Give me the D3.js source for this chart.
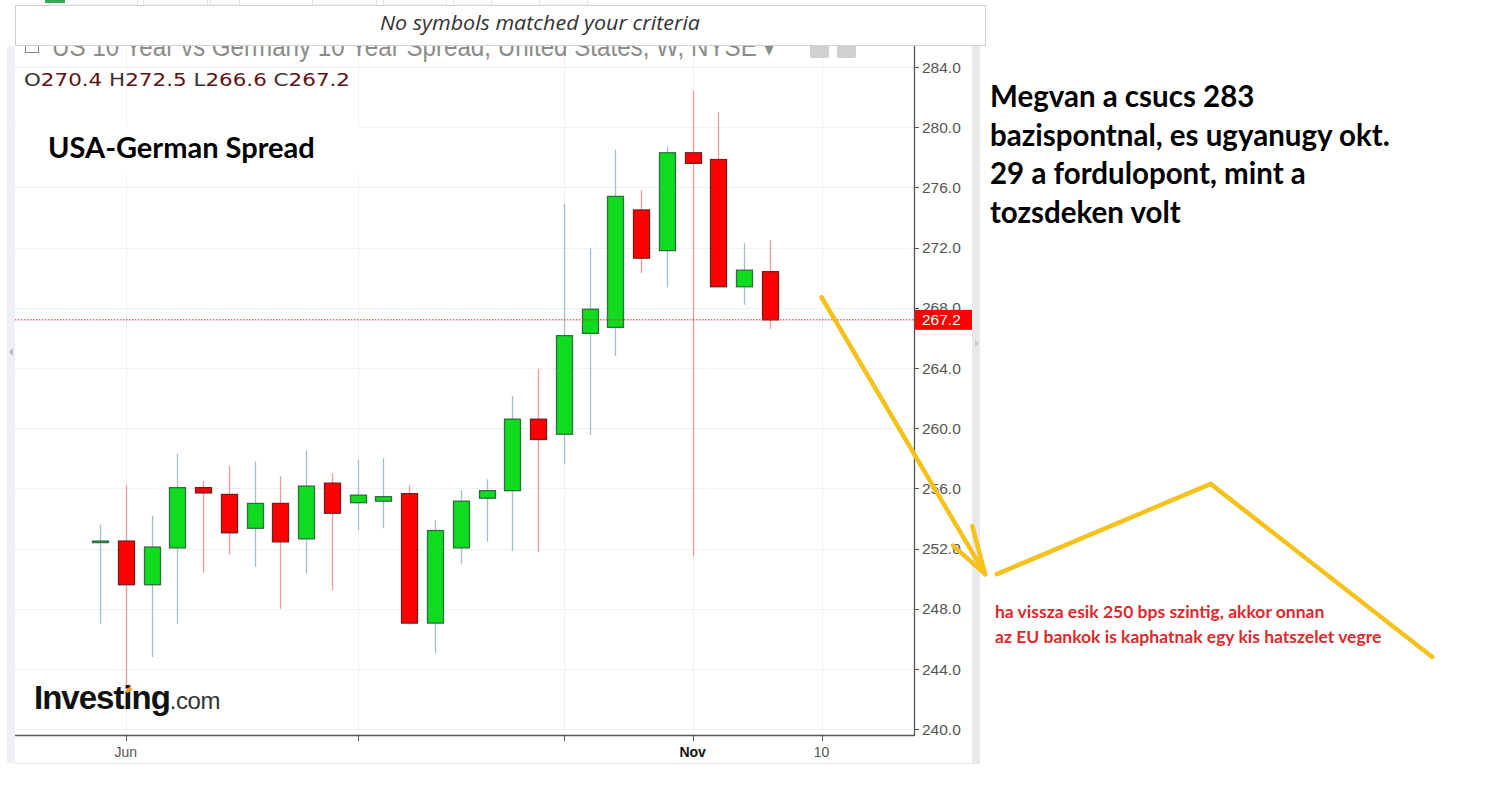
<!DOCTYPE html>
<html>
<head>
<meta charset="utf-8">
<script src="https://cdn.jsdelivr.net/npm/d3@7"></script>
<style>
  html, body { margin: 0; padding: 0; background: #fff; overflow: hidden; }
  svg { display: block; }
</style>
</head>
<body>
<div id="app"></div>
<script>
// weekly candles, US10Y - DE10Y spread (bps)
const weeks = ['2018-05-20','2018-05-27','2018-06-03','2018-06-10','2018-06-17','2018-06-24','2018-07-01',
  '2018-07-08','2018-07-15','2018-07-22','2018-07-29','2018-08-05','2018-08-12','2018-08-19','2018-08-26',
  '2018-09-02','2018-09-09','2018-09-16','2018-09-23','2018-09-30','2018-10-07','2018-10-14','2018-10-21',
  '2018-10-28','2018-11-04','2018-11-11','2018-11-18']
const open  = [252.4, 252.5, 249.6, 252.05, 256.05, 255.6, 253.35, 255.0, 252.65, 256.35, 255.05, 255.15, 255.65, 247.05,
  252.05, 255.35, 255.85, 260.6, 259.6, 266.3, 266.7, 274.5, 271.8, 278.3, 277.85, 269.4, 270.4]
const high  = [253.6, 256.2, 254.2, 258.3, 256.5, 257.5, 257.8, 256.8, 258.5, 257.0, 257.9, 258.0, 256.2, 253.9,
  255.9, 256.6, 262.15, 263.95, 274.9, 271.95, 278.5, 275.8, 278.7, 282.4, 281.0, 272.3, 272.5]
const low   = [247.0, 242.9, 244.8, 247.0, 250.4, 251.6, 250.8, 248.0, 250.35, 249.25, 253.25, 253.35, 246.95, 245.05,
  251.0, 252.45, 251.85, 251.75, 257.6, 259.55, 264.8, 270.3, 269.35, 251.5, 269.4, 268.2, 266.6]
const close = [252.5, 249.6, 252.1, 256.05, 255.7, 253.05, 255.0, 252.45, 256.15, 254.35, 255.55, 255.45, 247.05, 253.2,
  255.15, 255.85, 260.6, 259.25, 266.15, 267.9, 275.4, 271.3, 278.3, 277.6, 269.4, 270.5, 267.2]

const yTicks = [240, 244, 248, 252, 256, 260, 264, 268, 272, 276, 280, 284]
const xTickIdx = [1, 10, 18, 23, 28]
const xTickLabels = ['Jun', '', '', 'Nov', '10']
const lastPrice = 267.2

// hand drawn scenario (in bar index / spread units)
const arrowIdx = [28, 34.35], arrowVal = [268.7, 250.3]
const barbIdx = [33.1, 33.85], barbVal = [252.2, 253.5]
const scenarioIdx = [34.8, 43.1, 51.7], scenarioVal = [250.3, 256.3, 244.8]

const noteLines = ['Megvan a csucs 283', 'bazispontnal, es ugyanugy okt.', '29 a fordulopont, mint a', 'tozsdeken volt']
const subNoteLines = ['ha vissza esik 250 bps szintig, akkor onnan', 'az EU bankok is kaphatnak egy kis hatszelet vegre']

const W = 1485, H = 791
const plot = {left: 15, right: 914, top: 46, bottom: 735}

const x = d3.scaleLinear().domain([0, 26]).range([100, 770])
const y = d3.scaleLinear().domain([240, 284]).range([729.2, 67])
const bodyW = 16

const candles = weeks.map((w, i) => ({w, i, o: open[i], h: high[i], l: low[i], c: close[i], up: close[i] >= open[i]}))

const svg = d3.select('#app').append('svg')
    .attr('width', W)
    .attr('height', H)
    .style('font-family', 'Liberation Sans, Arial, sans-serif')

svg.append('defs').append('clipPath').attr('id', 'yclip')
    .append('rect').attr('x', plot.right).attr('y', 0).attr('width', 70).attr('height', plot.bottom)

// side strips
svg.append('rect').attr('x', 7).attr('y', 46).attr('width', 8).attr('height', 717).attr('fill', '#eef0f3')
svg.append('rect').attr('x', 972).attr('y', 46).attr('width', 8).attr('height', 717).attr('fill', '#e8e9ec')
svg.append('path').attr('d', 'M13,348 L9,352 L13,356 Z').attr('fill', '#bbb')
svg.append('path').attr('d', 'M975,340 L979,343.5 L975,347 Z').attr('fill', '#c8c8c8')
svg.append('line').attr('x1', 15).attr('x2', 980).attr('y1', 763.5).attr('y2', 763.5).attr('stroke', '#e6e6e6')

// grid
svg.append('g').selectAll('line').data(yTicks).enter().append('line')
    .attr('x1', plot.left).attr('x2', plot.right)
    .attr('y1', d => Math.round(y(d)) + 0.5).attr('y2', d => Math.round(y(d)) + 0.5)
    .attr('stroke', '#f0f0f0')
svg.append('g').selectAll('line').data(xTickIdx).enter().append('line')
    .attr('x1', d => Math.round(x(d)) + 0.5).attr('x2', d => Math.round(x(d)) + 0.5)
    .attr('y1', plot.top).attr('y2', plot.bottom)
    .attr('stroke', '#f0f0f0')

// white patch behind the label
svg.append('rect').attr('x', 16).attr('y', 127).attr('width', 345).attr('height', 48).attr('fill', '#fff')
svg.append('text').attr('x', 48).attr('y', 158)
    .style('font-family', 'Lato, Noto Sans, sans-serif').style('font-weight', 'bold').style('font-size', '29px')
    .attr('fill', '#000').text('USA-German Spread')

// candles
const g = svg.append('g')
g.selectAll('line.wick').data(candles).enter().append('line')
    .attr('class', 'wick')
    .attr('x1', d => Math.round(x(d.i)) + 0.5).attr('x2', d => Math.round(x(d.i)) + 0.5)
    .attr('y1', d => y(d.h)).attr('y2', d => y(d.l))
    .attr('stroke', d => d.up ? '#a5bdc9' : '#f09a9a')
    .attr('stroke-width', 1.3)
g.selectAll('rect.body').data(candles).enter().append('rect')
    .attr('class', 'body')
    .attr('x', d => Math.round(x(d.i)) - bodyW / 2 + 0.5)
    .attr('width', bodyW)
    .attr('y', d => y(Math.max(d.o, d.c)))
    .attr('height', d => Math.max(1, Math.abs(y(d.o) - y(d.c))))
    .attr('fill', d => d.up ? '#0fdc1f' : '#ff0000')
    .attr('stroke', d => d.up ? '#2f6e3e' : '#7a1c1c')
    .attr('stroke-width', 1.3)

// last price line
svg.append('line')
    .attr('x1', plot.left).attr('x2', plot.right)
    .attr('y1', y(lastPrice)).attr('y2', y(lastPrice))
    .attr('stroke', '#e02020').attr('stroke-width', 1).attr('stroke-dasharray', '1.5,1.5')

// Investing.com logo
const logo = svg.append('text').attr('x', 34).attr('y', 709)
    .style('font-weight', 'bold').style('font-size', '33px').style('letter-spacing', '-1px')
    .attr('fill', '#111')
logo.append('tspan').text('Investing')
logo.append('tspan').text('.com').style('font-weight', 'normal').style('font-size', '24px')
    .style('letter-spacing', '-0.5px').attr('fill', '#333')
const dotBox = logo.node().getExtentOfChar(6)
svg.append('path')
    .attr('d', `M${dotBox.x + 2},${dotBox.y + 12} l5,-5 l2,4 l-5,3 Z`)
    .attr('fill', '#f7a21b')

// x axis
svg.append('line').attr('x1', plot.left).attr('x2', plot.right).attr('y1', 735.5).attr('y2', 735.5)
    .attr('stroke', '#555').attr('stroke-width', 1.3)
svg.append('g').selectAll('line').data(xTickIdx).enter().append('line')
    .attr('x1', d => Math.round(x(d)) + 0.5).attr('x2', d => Math.round(x(d)) + 0.5)
    .attr('y1', 735).attr('y2', 741).attr('stroke', '#555')
svg.append('g').selectAll('text').data(xTickIdx).enter().append('text')
    .attr('x', d => x(d)).attr('y', 757).attr('text-anchor', 'middle')
    .style('font-size', '14px')
    .style('font-weight', (d, i) => xTickLabels[i] === 'Nov' ? 'bold' : 'normal')
    .attr('fill', (d, i) => xTickLabels[i] === 'Nov' ? '#111' : '#555')
    .text((d, i) => xTickLabels[i])

// y axis
svg.append('line').attr('x1', plot.right + 0.5).attr('x2', plot.right + 0.5).attr('y1', plot.top).attr('y2', 736)
    .attr('stroke', '#555').attr('stroke-width', 1.3)
const ya = svg.append('g').attr('clip-path', 'url(#yclip)')
ya.selectAll('line').data(yTicks).enter().append('line')
    .attr('x1', plot.right).attr('x2', plot.right + 5)
    .attr('y1', d => Math.round(y(d)) + 0.5).attr('y2', d => Math.round(y(d)) + 0.5)
    .attr('stroke', '#555')
// 268.0 sits under the price tag, as in the original
ya.selectAll('text').data(yTicks).enter().append('text')
    .attr('x', 922).attr('y', d => y(d) + 5.5)
    .style('font-size', '15.5px').attr('fill', '#555')
    .text(d => d3.format('.1f')(d))

// last price tag
svg.append('rect').attr('x', plot.right + 1).attr('y', y(lastPrice) - 10).attr('width', 57).attr('height', 20)
    .attr('fill', '#ff0000')
svg.append('text').attr('x', 922).attr('y', y(lastPrice) + 5.5)
    .style('font-size', '15.5px').attr('fill', '#fff').text(d3.format('.1f')(lastPrice))

// header (title partly hidden under the search popup)
svg.append('rect').attr('x', 25.5).attr('y', 39.5).attr('width', 13).attr('height', 13)
    .attr('fill', 'none').attr('stroke', '#888')
svg.append('text').attr('x', 52).attr('y', 56)
    .style('font-size', '27px').attr('fill', '#8c8c8c')
    .attr('textLength', 724).attr('lengthAdjust', 'spacingAndGlyphs')
    .text('US 10 Year vs Germany 10 Year Spread, United States, W, NYSE \u25BE')
svg.append('rect').attr('x', 810).attr('y', 40).attr('width', 19).attr('height', 18).attr('rx', 2).attr('fill', '#d0d0d0')
svg.append('rect').attr('x', 837).attr('y', 40).attr('width', 19).attr('height', 18).attr('rx', 2).attr('fill', '#d0d0d0')

const ohlc = svg.append('text').attr('x', 24).attr('y', 86)
    .style('font-family', 'DejaVu Sans, sans-serif').style('font-size', '18.5px')
    .attr('textLength', 326).attr('lengthAdjust', 'spacingAndGlyphs')
const last = candles[candles.length - 1]
;[['O', last.o], ['H', last.h], ['L', last.l], ['C', last.c]].forEach(([k, v], i) => {
    ohlc.append('tspan').text((i ? '  ' : '') + k).attr('fill', '#3d3030')
    ohlc.append('tspan').text(d3.format('.1f')(v)).attr('fill', '#5e1414')
})

// popup
svg.append('rect').attr('x', 15.5).attr('y', 5.5).attr('width', 970).attr('height', 40)
    .attr('fill', '#fff').attr('stroke', '#cfcfcf')
const tabs = [[48, 89], [143, 64], [210, 29], [312, 64], [383, 63], [453, 38], [539, 48]]
svg.append('g').selectAll('rect').data(tabs).enter().append('rect')
    .attr('x', d => d[0] + 0.5).attr('y', -6).attr('width', d => d[1]).attr('height', 11)
    .attr('fill', 'none').attr('stroke', '#e2e2e2')
svg.append('rect').attr('x', 45).attr('y', 0).attr('width', 20).attr('height', 3).attr('fill', '#3aa757')
svg.append('text').attr('x', 380).attr('y', 30)
    .style('font-family', 'Open Sans, sans-serif').style('font-style', 'italic').style('font-size', '20px')
    .attr('textLength', 320).attr('lengthAdjust', 'spacingAndGlyphs')
    .attr('fill', '#333').text('No symbols matched your criteria')

// annotation texts
svg.append('g').selectAll('text').data(noteLines).enter().append('text')
    .attr('x', 990).attr('y', (d, i) => 107 + i * 38.7)
    .style('font-family', 'Lato, Noto Sans, sans-serif').style('font-weight', 'bold').style('font-size', '29.5px')
    .attr('fill', '#000').text(d => d)
svg.append('g').selectAll('text').data(subNoteLines).enter().append('text')
    .attr('x', 995).attr('y', (d, i) => 618 + i * 24.5)
    .style('font-family', 'Lato, Noto Sans, sans-serif').style('font-weight', 'bold').style('font-size', '17.5px')
    .attr('fill', '#dc2a2e').text(d => d)

// yellow scenario lines
const line = d3.line().x(d => x(d[0])).y(d => y(d[1]))
const yellow = '#f5c21b'
const draw = pts => svg.append('path').attr('d', line(pts)).attr('fill', 'none')
    .attr('stroke', yellow).attr('stroke-width', 4.5).attr('stroke-linecap', 'round').attr('stroke-linejoin', 'round')
draw(arrowIdx.map((d, i) => [d, arrowVal[i]]))
barbIdx.forEach((d, i) => draw([[d, barbVal[i]], [arrowIdx[1], arrowVal[1]]]))
draw(scenarioIdx.map((d, i) => [d, scenarioVal[i]]))
</script>
</body>
</html>
